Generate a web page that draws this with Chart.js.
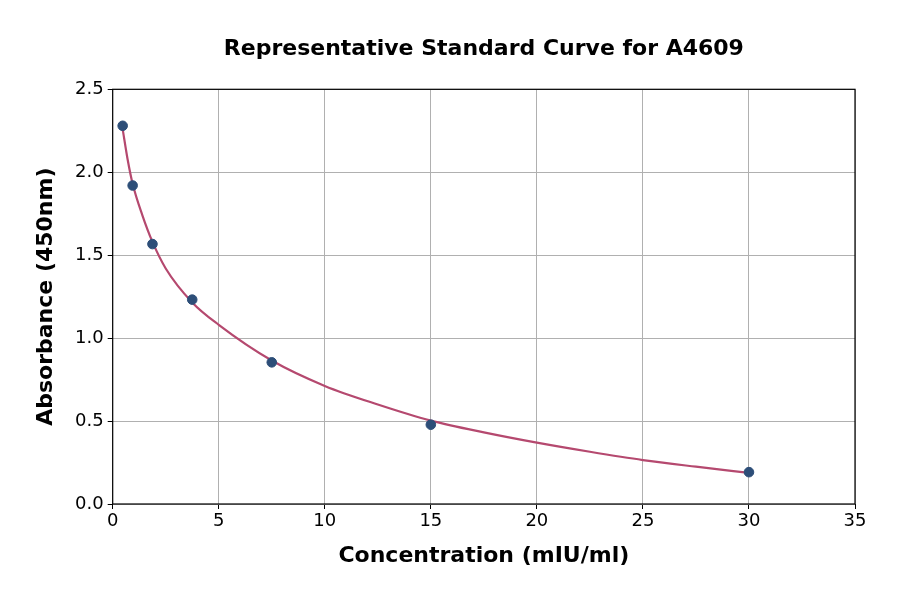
<!DOCTYPE html>
<html>
<head>
<meta charset="utf-8">
<script src="https://cdn.jsdelivr.net/npm/chart.js@4.4.0/dist/chart.umd.min.js"></script>
<style>
html,body{margin:0;padding:0;background:#fff;}
#wrap{width:900px;height:594px;position:relative;}
</style>
</head>
<body>
<div id="wrap"><canvas id="c" width="900" height="594"></canvas></div>
<script>
const titleText = "Representative Standard Curve for A4609";
const xTitle = "Concentration (mIU/ml)";
const yTitle = "Absorbance (450nm)";
const concentrations = [0.47, 0.94, 1.875, 3.75, 7.5, 15, 30];
const absorbances = [2.28, 1.92, 1.567, 1.232, 0.854, 0.478, 0.192];
const curveX = [0.47, 0.7, 0.94, 1.4, 1.875, 2.5, 3.75, 5, 7.5, 10, 12.5, 15, 17.5, 20, 22.5, 25, 27.5, 30];
const curveY = [2.26, 2.08, 1.93, 1.74, 1.58, 1.42, 1.215, 1.08, 0.865, 0.712, 0.6, 0.503, 0.432, 0.37, 0.315, 0.265, 0.225, 0.188];
const xTicks = [0, 5, 10, 15, 20, 25, 30, 35];
const yTicks = [0.0, 0.5, 1.0, 1.5, 2.0, 2.5];

const FONT = "'DejaVu Sans', sans-serif";
const PLOT = {left: 112.7, right: 855, top: 89.3, bottom: 504};

const framePlugin = {
  id: 'frame',
  afterDraw(chart) {
    const {ctx, chartArea: a} = chart;
    ctx.save();
    ctx.strokeStyle = '#000';
    ctx.lineWidth = 1.2;
    ctx.strokeRect(a.left, a.top, a.right - a.left, a.bottom - a.top);
    ctx.fillStyle = '#000';
    ctx.textAlign = 'center';
    ctx.textBaseline = 'middle';
    ctx.font = "bold 22px " + FONT;
    ctx.fillText(titleText, (a.left + a.right) / 2, 49);
    ctx.font = "bold 22px " + FONT;
    ctx.fillText(xTitle, (a.left + a.right) / 2, 556);
    ctx.translate(46, (a.top + a.bottom) / 2);
    ctx.rotate(-Math.PI / 2);
    ctx.fillText(yTitle, 0, 0);
    ctx.restore();
  }
};

new Chart(document.getElementById('c'), {
  type: 'scatter',
  data: {
    datasets: [
      {
        type: 'line',
        data: curveX.map((x, i) => ({x: x, y: curveY[i]})),
        borderColor: '#b5496f',
        borderWidth: 2.2,
        pointRadius: 0,
        fill: false,
        cubicInterpolationMode: 'monotone',
        order: 2
      },
      {
        data: concentrations.map((x, i) => ({x: x, y: absorbances[i]})),
        backgroundColor: '#2d4e78',
        borderColor: '#2d4e78',
        pointRadius: 4.8,
        order: 1
      }
    ]
  },
  options: {
    responsive: false,
    animation: false,
    devicePixelRatio: 1,
    layout: {padding: {left: 0, right: 900 - PLOT.right, top: PLOT.top, bottom: 0}},
    plugins: {legend: {display: false}, tooltip: {enabled: false}, title: {display: false}},
    scales: {
      x: {
        type: 'linear', min: 0, max: 35,
        afterBuildTicks(s) { s.ticks = xTicks.map(v => ({value: v})); },
        afterFit(s) { s.height = 594 - PLOT.bottom; },
        grid: {color: '#b0b0b0', lineWidth: 1, drawTicks: true, tickLength: 5, tickColor: '#000'},
        border: {display: false},
        ticks: {color: '#000', font: {family: FONT, size: 18}, padding: 2, callback: v => String(v), maxRotation: 0},
        title: {display: false}
      },
      y: {
        type: 'linear', min: 0, max: 2.5,
        afterBuildTicks(s) { s.ticks = yTicks.map(v => ({value: v})); },
        afterFit(s) { s.width = PLOT.left; },
        grid: {color: '#b0b0b0', lineWidth: 1, drawTicks: true, tickLength: 5, tickColor: '#000'},
        border: {display: false},
        ticks: {color: '#000', font: {family: FONT, size: 18}, padding: 4, callback: v => v.toFixed(1)},
        title: {display: false}
      }
    }
  },
  plugins: [framePlugin]
});
</script>
</body>
</html>
